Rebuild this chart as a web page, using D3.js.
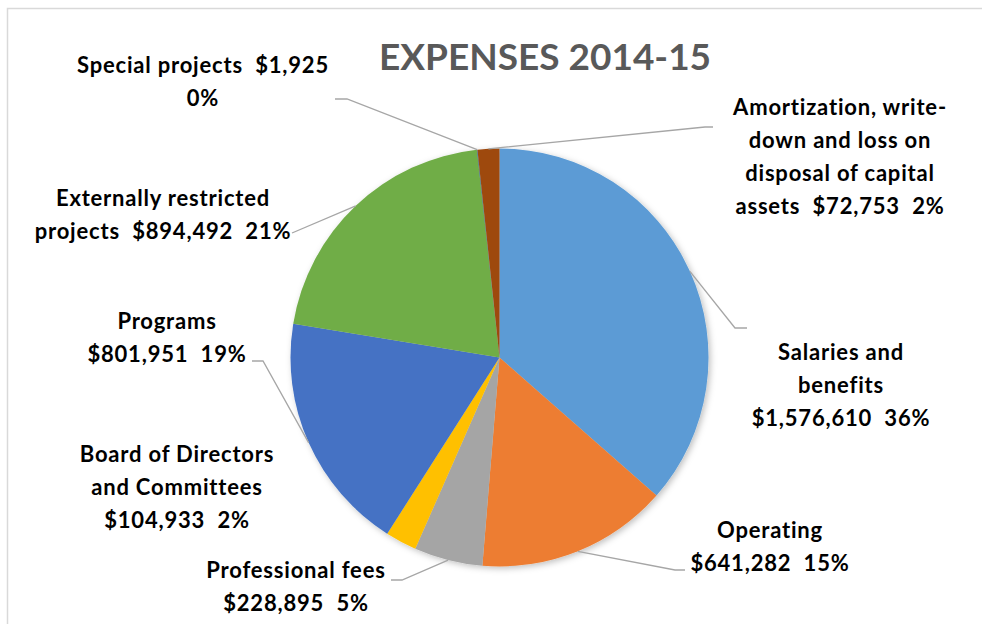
<!doctype html>
<html lang="en">
<head>
  <meta charset="utf-8">
  <title>Expenses 2014-15</title>
  <style>
    body { margin: 0; background: #fff; }
    text { font-family: Lato, "Open Sans", sans-serif; font-weight: bold; }
  </style>
</head>
<body>
<div id="mychart"></div>
<script src="https://d3js.org/d3.v7.min.js"></script>
<script>
// data
var categories = ["Salaries and benefits", "Operating", "Professional fees",
  "Board of Directors and Committees", "Programs", "Externally restricted projects",
  "Special projects", "Amortization, write-down and loss on disposal of capital assets"];
var amounts = [1576610, 641282, 228895, 104933, 801951, 894492, 1925, 72753];
var percentLabels = ["36%", "15%", "5%", "2%", "19%", "21%", "0%", "2%"];
var amountLabels = ["$1,576,610", "$641,282", "$228,895", "$104,933", "$801,951", "$894,492", "$1,925", "$72,753"];
var labelLines = [
  ["Salaries and", "benefits", "$1,576,610  36%"],
  ["Operating", "$641,282  15%"],
  ["Professional fees", "$228,895  5%"],
  ["Board of Directors", "and Committees", "$104,933  2%"],
  ["Programs", "$801,951  19%"],
  ["Externally restricted", "projects  $894,492  21%"],
  ["Special projects  $1,925", "0%"],
  ["Amortization, write-", "down and loss on", "disposal of capital", "assets  $72,753  2%"]
];
var colors = ["#5B9BD5", "#ED7D31", "#A5A5A5", "#FFC000", "#4472C4", "#70AD47", "#255E91", "#9E480E"];

// label layout: centre x, first baseline y, and where the leader line ends
var labelPos = [
  {x: 841, y: 360, lead: [[735, 328], [747, 328]]},
  {x: 770, y: 538, lead: [[675, 570], [685, 570]]},
  {x: 296, y: 578, lead: [[402, 580], [391, 580]]},
  {x: 177, y: 462, lead: null},
  {x: 167, y: 329, lead: [[263, 361], [252, 361]]},
  {x: 163, y: 206, lead: [[292, 233]]},
  {x: 203, y: 73, lead: [[347, 99], [335, 99]]},
  {x: 840, y: 115, lead: [[705, 127], [713, 127]]}
];

var width = 982;
var height = 624;
var cx = 499.5, cy = 357.5, radius = 209;
var lineH = 33;

var svg = d3.select("#mychart").append("svg")
  .attr("width", width)
  .attr("height", height);

var defs = svg.append("defs");
var shadow = defs.append("filter").attr("id", "shadow")
  .attr("x", "-20%").attr("y", "-20%").attr("width", "140%").attr("height", "140%");
shadow.append("feDropShadow")
  .attr("dx", 2).attr("dy", 2).attr("stdDeviation", 3)
  .attr("flood-color", "#000").attr("flood-opacity", 0.25);

// chart border
svg.append("path")
  .attr("d", "M7.5," + height + "V8.5H" + width)
  .attr("fill", "none")
  .attr("stroke", "#D9D9D9")
  .attr("stroke-width", 1.5);

svg.append("text")
  .attr("x", 545)
  .attr("y", 70)
  .attr("text-anchor", "middle")
  .attr("fill", "#595959")
  .style("font-size", "37px")
  .text("EXPENSES 2014-15");

var data = categories.map(function(c, i) {
  return {name: c, value: amounts[i], color: colors[i], lines: labelLines[i], pos: labelPos[i]};
});

var pie = d3.pie().sort(null).value(function(d) { return d.value; });
var arc = d3.arc().innerRadius(0).outerRadius(radius);
var edge = d3.arc().innerRadius(radius).outerRadius(radius);
var arcs = pie(data);

var g = svg.append("g").attr("transform", "translate(" + cx + "," + cy + ")");
g.append("g").attr("filter", "url(#shadow)")
  .selectAll("path").data(arcs)
  .enter()
  .append("path")
  .attr("d", arc)
  .attr("fill", function(d) { return d.data.color; });

// leader lines
svg.selectAll("polyline.lead").data(arcs.filter(function(d) { return d.data.pos.lead; }))
  .enter()
  .append("polyline")
  .attr("class", "lead")
  .attr("fill", "none")
  .attr("stroke", "#A6A6A6")
  .attr("stroke-width", 1.3)
  .attr("points", function(d) {
    var c = edge.centroid(d);
    var pts = [[cx + c[0], cy + c[1]]].concat(d.data.pos.lead);
    return pts.map(function(p) { return p.join(","); }).join(" ");
  });

// data labels
var labels = svg.selectAll("text.lbl").data(data)
  .enter()
  .append("text")
  .attr("class", "lbl")
  .attr("text-anchor", "middle")
  .attr("fill", "#000")
  .attr("xml:space", "preserve")
  .style("white-space", "pre")
  .style("letter-spacing", "0.8px")
  .style("font-size", "22px");

labels.selectAll("tspan").data(function(d) {
    return d.lines.map(function(l, i) { return {t: l, x: d.pos.x, y: d.pos.y + i * lineH}; });
  })
  .enter()
  .append("tspan")
  .attr("x", function(d) { return d.x; })
  .attr("y", function(d) { return d.y; })
  .text(function(d) { return d.t; });
</script>
</body>
</html>
